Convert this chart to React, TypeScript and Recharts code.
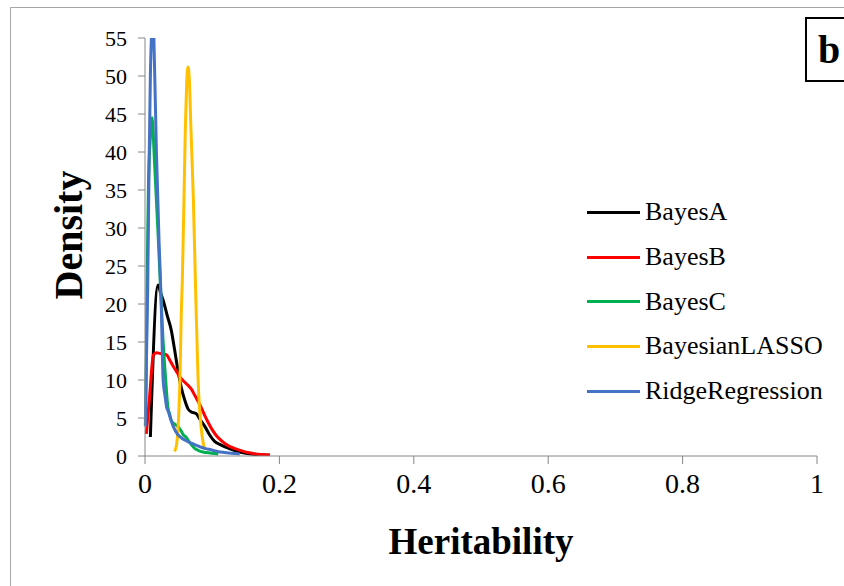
import { LineChart, Line, XAxis, YAxis, Label } from "recharts";

// heritability (x) and density (y), one pair of arrays per model
const bayesAH = [0.008, 0.0193, 0.023, 0.027, 0.033, 0.039, 0.044, 0.049, 0.054, 0.059, 0.064, 0.069, 0.076, 0.082, 0.089, 0.096, 0.104, 0.112, 0.119, 0.128, 0.138, 0.148, 0.158, 0.17, 0.186];
const bayesAD = [2.5, 22.5, 21.5, 20.5, 18.5, 16.6, 14, 11.3, 9, 7.4, 6.2, 5.8, 5.6, 4.8, 3.9, 2.8, 1.9, 1.5, 1.2, 0.9, 0.6, 0.4, 0.26, 0.15, 0.1];

const bayesBH = [0.002, 0.007, 0.0125, 0.017, 0.022, 0.027, 0.032, 0.037, 0.042, 0.047, 0.052, 0.058, 0.064, 0.069, 0.074, 0.079, 0.084, 0.089, 0.094, 0.099, 0.106, 0.114, 0.123, 0.133, 0.143, 0.153, 0.163, 0.173, 0.186];
const bayesBD = [2.9, 8, 13.3, 13.6, 13.5, 13.4, 13.3, 12.6, 11.8, 11.1, 10.4, 9.8, 9.3, 8.8, 8.0, 7.2, 6.3, 5.3, 4.4, 3.6, 2.7, 2.0, 1.4, 1.0, 0.7, 0.45, 0.3, 0.2, 0.12];

const bayesCH = [0.001, 0.003, 0.005, 0.008, 0.0105, 0.014, 0.019, 0.024, 0.027, 0.029, 0.032, 0.034, 0.037, 0.039, 0.044, 0.049, 0.053, 0.057, 0.061, 0.064, 0.069, 0.074, 0.079, 0.084, 0.091, 0.099, 0.109];
const bayesCD = [5, 22, 35, 42, 44.5, 39, 30, 20.5, 15, 12.2, 8.5, 6.5, 5.4, 4.7, 4.2, 3.9, 3.4, 2.8, 2.5, 2.1, 1.5, 1.0, 0.75, 0.57, 0.45, 0.35, 0.26];

const lassoH = [0.044, 0.047, 0.049, 0.052, 0.054, 0.0555, 0.058, 0.06, 0.062, 0.064, 0.066, 0.068, 0.072, 0.075, 0.079, 0.084, 0.089];
const lassoD = [0.6, 1.5, 3.4, 10, 18.8, 23, 33.7, 43, 49, 51.2, 49.5, 44, 33.7, 23, 10, 3.4, 0.8];

const ridgeH = [0.0005, 0.002, 0.004, 0.006, 0.008, 0.01, 0.012, 0.014, 0.017, 0.021, 0.024, 0.027, 0.03, 0.032, 0.035, 0.037, 0.042, 0.049, 0.054, 0.059, 0.066, 0.074, 0.081, 0.089, 0.099, 0.109, 0.119, 0.128, 0.141];
const ridgeD = [3.9, 12, 22, 38, 50, 56, 58, 52, 40, 28, 20.5, 10, 7.8, 6.5, 5.8, 5.2, 3.9, 2.8, 2.4, 2.1, 1.8, 1.5, 1.25, 1.0, 0.8, 0.57, 0.45, 0.35, 0.26];

const xTicks = [0, 0.2, 0.4, 0.6, 0.8, 1];
const yTicks = [0, 5, 10, 15, 20, 25, 30, 35, 40, 45, 50, 55];

const pairs = (h: number[], d: number[]) => h.map((x, i) => ({ h: x, d: d[i] }));

const series = [
  { name: "BayesA", color: "#000000", data: pairs(bayesAH, bayesAD) },
  { name: "BayesB", color: "#FF0000", data: pairs(bayesBH, bayesBD) },
  { name: "BayesC", color: "#00B050", data: pairs(bayesCH, bayesCD) },
  { name: "BayesianLASSO", color: "#FFC000", data: pairs(lassoH, lassoD) },
  { name: "RidgeRegression", color: "#4472C4", data: pairs(ridgeH, ridgeD) },
];

const serif = "'Liberation Serif', 'Times New Roman', serif";
const axisGray = "#868686";

function LegendBox() {
  return (
    <div style={{ position: "absolute", left: 587, top: 190, fontFamily: serif, fontSize: 26, color: "#000" }}>
      {series.map((s) => (
        <div key={s.name} style={{ display: "flex", alignItems: "center", height: 44.7, whiteSpace: "nowrap" }}>
          <div style={{ width: 53, height: 3, background: s.color, marginRight: 5 }} />
          <span>{s.name}</span>
        </div>
      ))}
    </div>
  );
}

export default function App() {
  return (
    <div style={{ position: "absolute", left: 0, top: 0, width: 844, height: 586, overflow: "hidden", background: "#fff" }}>
      {/* outer frame of the figure panel */}
      <div style={{ position: "absolute", left: 10, top: 7, width: 900, height: 700, border: "1px solid #a6a6a6" }} />
      <LineChart
        width={844}
        height={586}
        margin={{ top: 38, right: 27, bottom: 70, left: 85 }}
        style={{ position: "absolute", left: 0, top: 0 }}
      >
        <XAxis
          type="number"
          dataKey="h"
          domain={[0, 1]}
          ticks={xTicks}
          height={60}
          stroke={axisGray}
          tickSize={8}
          tickMargin={9}
          tick={{ fill: "#000", fontSize: 28, fontFamily: serif }}
          allowDuplicatedCategory={false}
        >
          <Label
            content={() => (
              <text x={481} y={554} textAnchor="middle" fontFamily={serif} fontSize={37} fontWeight="bold" fill="#000">
                Heritability
              </text>
            )}
          />
        </XAxis>
        <YAxis
          type="number"
          domain={[0, 55]}
          ticks={yTicks}
          allowDataOverflow
          width={60}
          stroke={axisGray}
          tickSize={7}
          tickMargin={11}
          tick={{ fill: "#000", fontSize: 22, fontFamily: serif }}
        >
          <Label
            content={() => (
              <text
                x={68}
                y={235}
                transform="rotate(-90 68 235)"
                textAnchor="middle"
                dominantBaseline="central"
                fontFamily={serif}
                fontSize={40}
                fontWeight="bold"
                fill="#000"
              >
                Density
              </text>
            )}
          />
        </YAxis>
        {series.map((s) => (
          <Line
            key={s.name}
            data={s.data}
            dataKey="d"
            name={s.name}
            type="monotone"
            stroke={s.color}
            strokeWidth={3}
            dot={false}
            isAnimationActive={false}
          />
        ))}
      </LineChart>
      <LegendBox />
      {/* panel letter */}
      <div
        style={{
          position: "absolute",
          left: 805,
          top: 17,
          width: 60,
          height: 61,
          border: "2px solid #000",
          fontFamily: serif,
          fontWeight: "bold",
          fontSize: 40,
          lineHeight: "61px",
          paddingLeft: 11,
          boxSizing: "content-box",
        }}
      >
        b
      </div>
    </div>
  );
}
